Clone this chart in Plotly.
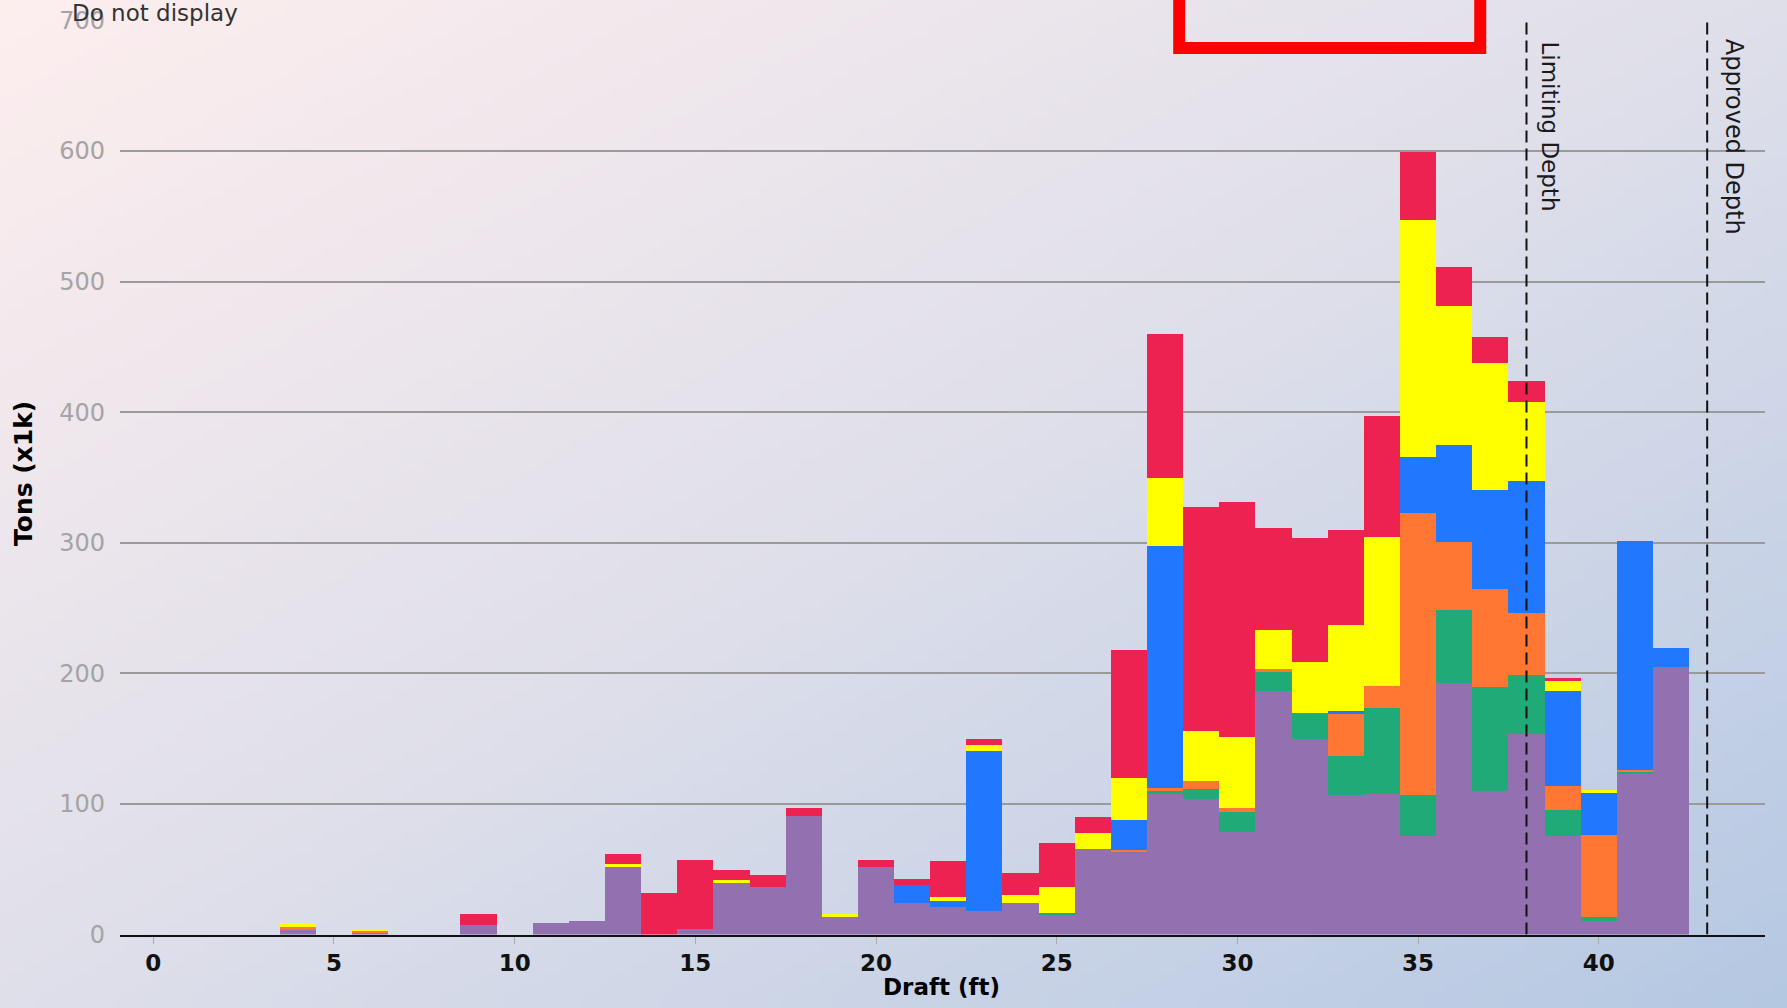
import base64, struct, zlib
import plotly.graph_objects as go

# ---------------- data ----------------
drafts = [4, 6, 9, 11, 12, 13, 14, 15, 16, 17, 18, 19, 20, 21, 22, 23, 24, 25, 26, 27,
          28, 29, 30, 31, 32, 33, 34, 35, 36, 37, 38, 39, 40, 41, 42]

purple = [4.5, 2, 7.7, 9.5, 10.8, 52.3, 0, 5, 39.7, 37.2, 91, 14, 52.5, 24.7, 21.7, 18.6, 24.7, 16, 66, 64,
          108, 104, 79, 187, 150, 107, 108, 76, 193, 110, 154, 76, 11, 123.7, 205]
green = [0, 0, 0, 0, 0, 0, 0, 0, 0, 0, 0, 0, 0, 0, 0, 0, 0, 1.3, 0, 0,
         2, 8, 15, 15, 20, 30.5, 66, 31, 56, 80, 45, 20, 3, 1, 0]
orange = [1.5, 1.5, 0, 0, 0, 0, 0, 0, 0, 0, 0, 0, 0, 0, 0, 0, 0, 0, 0, 1.5,
          3, 6, 3, 1.5, 0, 32, 17, 216.5, 52, 75, 48, 18.5, 63, 2, 0]
blue = [0, 0, 0, 0, 0, 0, 0, 0, 0, 0, 0, 0, 0, 13.5, 4.5, 122.3, 0, 0, 0, 22.4,
        185, 0, 0, 0, 0, 2, 0, 43, 74, 75.5, 101, 72.5, 32, 175, 15]
yellow = [3, 1.5, 0, 0, 0, 2, 0, 0, 2.5, 0, 0, 1.8, 0, 0, 3, 4.3, 6, 19.6, 12.2, 32.3,
          52, 38, 55, 30, 39, 66, 114, 181, 107, 97.5, 60, 7.5, 1.8, 0, 0]
red = [0, 0, 8.2, 0, 0, 7.7, 32.6, 52.5, 7.5, 9.2, 6.4, 0, 4.8, 4.6, 27.5, 4.8, 17, 33.7, 12.2, 98.5,
       110, 172, 180, 78, 95, 72.5, 92.5, 52, 30, 20, 16, 2.7, 0, 0, 0]

series_names = ["Purple", "Green", "Orange", "Blue", "Yellow", "Red"]
series_values = [purple, green, orange, blue, yellow, red]
series_colors = ["#9370AF", "#20AA78", "#FF7733", "#2277FF", "#FFFF00", "#EE2250"]

y_ticks = [0, 100, 200, 300, 400, 500, 600, 700]
x_ticks = [0, 5, 10, 15, 20, 25, 30, 35, 40]
limiting_depth = 38
approved_depth = 43

# ---------------- background gradient image ----------------
def gradient_png(w, h):
    c0 = (253, 238, 238)
    c1 = (223, 223, 234)
    c2 = (181, 200, 226)
    rows = []
    for j in range(h):
        row = bytearray([0])
        for i in range(w):
            t = (i / (w - 1) + j / (h - 1)) / 2
            if t < 0.5:
                s = t / 0.5
                c = [round(c0[k] + (c1[k] - c0[k]) * s) for k in range(3)]
            else:
                s = (t - 0.5) / 0.5
                c = [round(c1[k] + (c2[k] - c1[k]) * s) for k in range(3)]
            row.extend(c)
        rows.append(bytes(row))
    raw = b"".join(rows)

    def chunk(tag, data):
        return struct.pack(">I", len(data)) + tag + data + struct.pack(">I", zlib.crc32(tag + data) & 0xffffffff)

    png = b"\x89PNG\r\n\x1a\n"
    png += chunk(b"IHDR", struct.pack(">IIBBBBB", w, h, 8, 2, 0, 0, 0))
    png += chunk(b"IDAT", zlib.compress(raw, 9))
    png += chunk(b"IEND", b"")
    return "data:image/png;base64," + base64.b64encode(png).decode()

W, H = 1787, 1008
L, R, T, B = 120, 1765, 20.5, 934.6

fig = go.Figure()
for name, vals, col in zip(series_names, series_values, series_colors):
    fig.add_trace(go.Bar(x=drafts, y=vals, name=name, width=1,
                         marker=dict(color=col, line=dict(width=0))))

fig.update_layout(
    template="none",
    width=W, height=H, autosize=False,
    margin=dict(l=0, r=0, t=0, b=0, pad=0),
    paper_bgcolor="rgba(0,0,0,0)",
    plot_bgcolor="rgba(0,0,0,0)",
    barmode="stack", bargap=0,
    showlegend=False,
    xaxis=dict(domain=[L / W, R / W], range=[-0.92, 44.6], tickvals=x_ticks, automargin=False,
               showgrid=False, zeroline=False, showline=True, linecolor="#111", linewidth=2,
               ticks="outside", ticklen=7, tickcolor="#aaaaaa", tickwidth=1,
               tickfont=dict(family="DejaVu Sans", size=23, color="#111", weight="bold")),
    yaxis=dict(domain=[1 - B / H, 1 - T / H], range=[0, 700], tickvals=y_ticks, automargin=False,
               showgrid=True, gridcolor="#9a9a9a", gridwidth=1.5, zeroline=False,
               showline=False, ticks="", ticklabelstandoff=14,
               tickfont=dict(family="DejaVu Sans", size=24, color="#a4a4a4")),
    images=[dict(source=gradient_png(180, 100), xref="paper", yref="paper",
                 x=0, y=1, sizex=1, sizey=1, sizing="stretch", layer="below",
                 xanchor="left", yanchor="top")],
)

ydom0, ydom1 = 1 - B / H, 1 - T / H

fig.add_shape(type="line", xref="x", yref="y", x0=limiting_depth, x1=limiting_depth, y0=0, y1=700,
              line=dict(color="#111", width=2, dash="12px,6px"))
fig.add_shape(type="line", xref="x", yref="y", x0=approved_depth, x1=approved_depth, y0=0, y1=700,
              line=dict(color="#111", width=2, dash="12px,6px"))
fig.add_shape(type="rect", xref="x", yref="paper", x0=28.39, x1=36.72,
              y0=ydom0 + 679 / 700 * (ydom1 - ydom0), y1=1.2,
              line=dict(color="#FF0000", width=12))

fig.add_annotation(text="Limiting Depth", x=limiting_depth, xref="x", y=1, yref="paper",
                   xanchor="left", yanchor="top", xshift=9, yshift=-40, textangle=90,
                   showarrow=False, font=dict(family="DejaVu Sans", size=23, color="#1a1a1a"))
fig.add_annotation(text="Approved Depth", x=approved_depth, xref="x", y=1, yref="paper",
                   xanchor="left", yanchor="top", xshift=11, yshift=-37, textangle=90,
                   showarrow=False, font=dict(family="DejaVu Sans", size=24, color="#1a1a1a"))

fig.add_annotation(text="Do not display", x=70 / W, xref="paper", y=1 - 13 / H, yref="paper",
                   xanchor="left", yanchor="middle", showarrow=False,
                   font=dict(family="DejaVu Sans", size=23, color="#333"))
fig.add_annotation(text="Tons (x1k)", x=23 / W, xref="paper", y=1 - 474 / H, yref="paper",
                   xanchor="center", yanchor="middle", textangle=-90, showarrow=False,
                   font=dict(family="DejaVu Sans", size=25, color="#000", weight="bold"))
fig.add_annotation(text="Draft (ft)", x=941 / W, xref="paper", y=1 - 987 / H, yref="paper",
                   xanchor="center", yanchor="middle", showarrow=False,
                   font=dict(family="DejaVu Sans", size=23, color="#000", weight="bold"))

fig.write_html(
    "out.html",
    config={"displayModeBar": False, "responsive": False},
    post_script="document.body.style.margin='0';document.body.style.overflow='hidden';"
                "document.documentElement.style.overflow='hidden';",
)
